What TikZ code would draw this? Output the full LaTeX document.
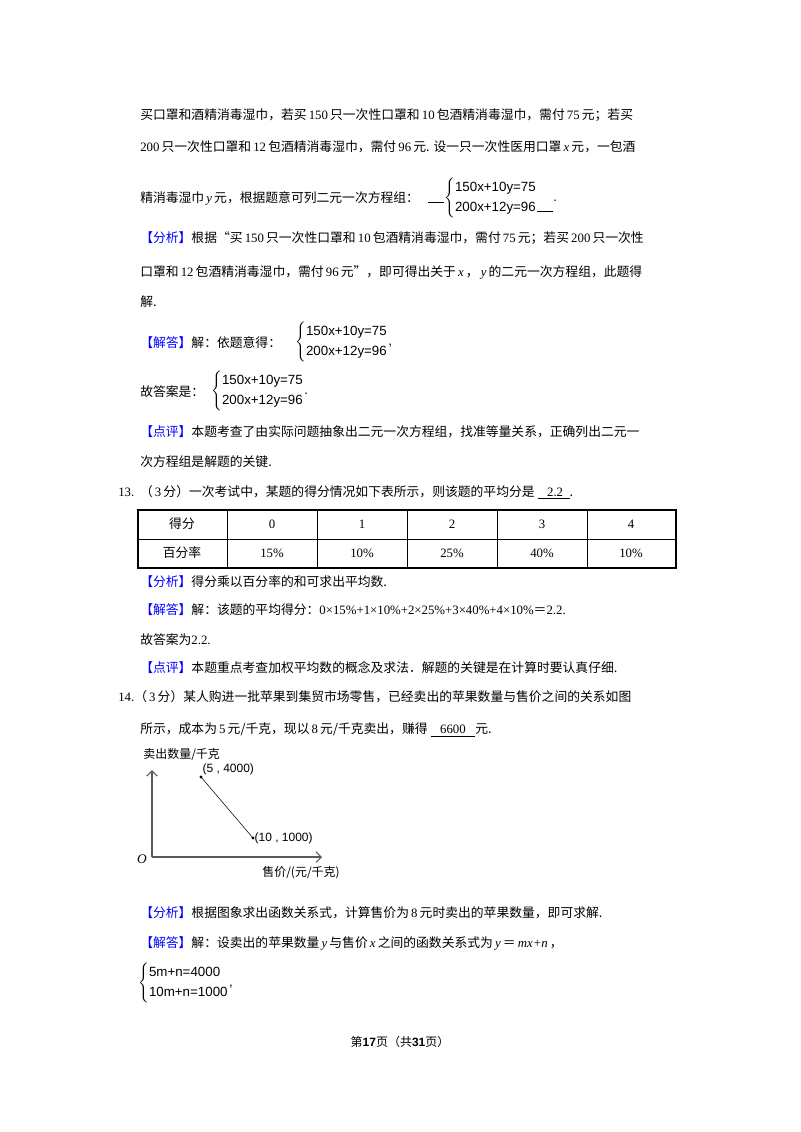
\documentclass[tikz,border=0pt]{standalone}
\usepackage{amsmath}
\usepackage{fontspec}
\setmainfont{Liberation Serif}
\setsansfont{Liberation Sans}
\newfontfamily\cjk{Noto Sans CJK SC}
\usetikzlibrary{arrows.meta}
\newcommand\nm[1]{\,{\rmfamily #1}\,}
\newcommand\vv[1]{\,{\rmfamily\itshape #1}\,}
\newcommand\eqsys[2]{$\left\{\vcenter{\hbox{\begin{tabular}{@{}l@{}}#1\\[3pt]#2\end{tabular}}}\right.$}
\begin{document}
\begin{tikzpicture}[x=0.75pt,y=-0.75pt,
  tx/.style={anchor=west,inner sep=0pt,font=\cjk\fontsize{9.6}{12}\selectfont},
  eq/.style={anchor=west,inner sep=0pt,font=\sffamily\fontsize{10}{12}\selectfont}]
\useasboundingbox (0,0) rectangle (800,1132);
\fill[white] (0,0) rectangle (800,1132);
\node[tx] (l1) at (140,115) {买口罩和酒精消毒湿巾，若买\nm{150}只一次性口罩和\nm{10}包酒精消毒湿巾，需付\nm{75}元；若买};
\node[tx] (l2) at (140,147) {{\rmfamily 200}\,只一次性口罩和\nm{12}包酒精消毒湿巾，需付\nm{96}元. 设一只一次性医用口罩\vv{x}元，一包酒};
\node[tx] (l3) at (140,198) {精消毒湿巾\vv{y}元，根据题意可列二元一次方程组：};
\node[eq] (e1) at (428,198) {\rule[-1pt]{12pt}{0.5pt}\eqsys{150x+10y=75}{200x+12y=96}\rule[-8pt]{12pt}{0.5pt}.};
\node[tx] (l4) at (140,238) {{\color{blue}【分析】}根据“买\nm{150}只一次性口罩和\nm{10}包酒精消毒湿巾，需付\nm{75}元；若买\nm{200}只一次性};
\node[tx] (l5) at (140,272) {口罩和\nm{12}包酒精消毒湿巾，需付\nm{96}元”，即可得出关于\vv{x}，\vv{y}的二元一次方程组，此题得};
\node[tx] (l6) at (140,302) {解.};
\node[tx] (l7) at (140,343) {{\color{blue}【解答】}解：依题意得：};
\node[eq] (e2) at (295,342) {\eqsys{150x+10y=75}{200x+12y=96},};
\node[tx] (l8) at (140,392) {故答案是：};
\node[eq] (e3) at (211,391) {\eqsys{150x+10y=75}{200x+12y=96}.};
\node[tx] (l9) at (140,432) {{\color{blue}【点评】}本题考查了由实际问题抽象出二元一次方程组，找准等量关系，正确列出二元一};
\node[tx] (l10) at (140,462) {次方程组是解题的关键.};
\node[tx] (q13) at (118,492) {{\rmfamily 13.}\ \ （\nm{3}分）一次考试中，某题的得分情况如下表所示，则该题的平均分是\ \underline{\rmfamily\ \ \ 2.2\ \ }.};
% table
\draw[line width=0.8pt] (138,510) rectangle (676,568);
\draw (138,539) -- (676,539);
\foreach \xx in {227,317,407,497,587} \draw (\xx,510) -- (\xx,568);
\foreach \xx/\t in {182/得分,272/{\rmfamily 0},362/{\rmfamily 1},452/{\rmfamily 2},542/{\rmfamily 3},631/{\rmfamily 4}}
  \node[font=\cjk\fontsize{9.6}{12}\selectfont] at (\xx,524) {\t};
\foreach \xx/\t in {182/百分率,272/{\rmfamily 15\%},362/{\rmfamily 10\%},452/{\rmfamily 25\%},542/{\rmfamily 40\%},631/{\rmfamily 10\%}}
  \node[font=\cjk\fontsize{9.6}{12}\selectfont] at (\xx,553) {\t};
\node[tx] (l11) at (140,582) {{\color{blue}【分析】}得分乘以百分率的和可求出平均数.};
\node[tx] (l12) at (140,610) {{\color{blue}【解答】}解：该题的平均得分：{\rmfamily 0×15\%+1×10\%+2×25\%+3×40\%+4×10\%}＝{\rmfamily 2.2.}};
\node[tx] (l13) at (140,640) {故答案为{\rmfamily 2.2.}};
\node[tx] (l14) at (140,668) {{\color{blue}【点评】}本题重点考查加权平均数的概念及求法．解题的关键是在计算时要认真仔细.};
\node[tx] (q14) at (118,697) {{\rmfamily 14.}（\nm{3}分）某人购进一批苹果到集贸市场零售，已经卖出的苹果数量与售价之间的关系如图};
\node[tx] (l15) at (140,730) {所示，成本为\nm{5}元/千克，现以\nm{8}元/千克卖出，赚得\ \underline{\rmfamily\ \ \ 6600\ \ \ }元.};
% graph
\coordinate (O) at (152,857);
\draw[-{Straight Barb[length=4pt]},gray!70!black,line width=0.8pt] (O) -- (152,770) coordinate (yt);
\draw[-{Straight Barb[length=4pt]},gray!70!black,line width=0.8pt] (O) -- (322,857) coordinate (xt);
\node[font=\cjk\fontsize{9}{11}\selectfont,anchor=west,inner sep=0pt] (yl) at (143,755) {卖出数量/千克};
\node[font=\rmfamily\itshape\fontsize{10}{12}\selectfont] (ol) at (142,859) {O};
\node[font=\cjk\fontsize{9}{11}\selectfont,anchor=west,inner sep=0pt] (xl) at (262,873) {售价/(元/千克)};
\fill (201,777) circle (1.6) coordinate (p1);
\fill (253,838) circle (1.6) coordinate (p2);
\draw (p1) -- (p2);
\node[font=\sffamily\fontsize{9}{11}\selectfont,anchor=south west,inner sep=1pt] at (p1) {(5 , 4000)};
\node[font=\sffamily\fontsize{9}{11}\selectfont,anchor=west,inner sep=1pt] at (p2) {(10 , 1000)};
\node[tx] (l16) at (140,913) {{\color{blue}【分析】}根据图象求出函数关系式，计算售价为\nm{8}元时卖出的苹果数量，即可求解.};
\node[tx] (l17) at (140,943) {{\color{blue}【解答】}解：设卖出的苹果数量\vv{y}与售价\vv{x}之间的函数关系式为\vv{y}＝\vv{mx+n}，};
\node[eq] (e4) at (138,983) {\eqsys{5m+n=4000}{10m+n=1000},};
\node[font=\cjk\fontsize{9}{11}\selectfont] (ft) at (400,1042) {第{\sffamily\bfseries 17}页（共{\sffamily\bfseries 31}页）};
\end{tikzpicture}
\end{document}
